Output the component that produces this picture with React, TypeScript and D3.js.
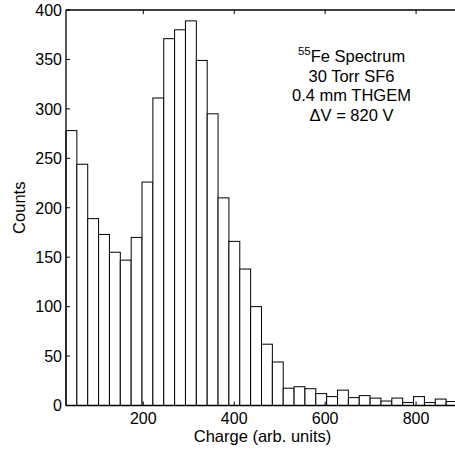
import React from "react";
import * as d3 from "d3";

// Histogram data: 36 bins spanning charge 30..890 (arb. units)
const binStart = 30;
const binEnd = 890;
const counts = [
  278, 244, 189, 173, 155, 147, 170, 226, 311, 371, 380, 389, 349, 295, 210,
  166, 138, 100, 62, 44, 17.5, 19, 17, 12, 9, 15.5, 8, 10, 7.5, 4.5, 7.5, 3,
  9, 3, 6.5, 4,
];
const xTicks = [200, 400, 600, 800];
const yTicks = [0, 50, 100, 150, 200, 250, 300, 350, 400];
const annotation = ["Fe Spectrum", "30 Torr SF6", "0.4 mm THGEM", "ΔV = 820 V"];

const W = 455;
const H = 451;
const margin = { left: 66, top: 10, right: -2, bottom: 45.5 };
const font = "'Liberation Sans', Arial, Helvetica, sans-serif";

export default function App() {
  const x = d3
    .scaleLinear()
    .domain([binStart, binEnd])
    .range([margin.left, W - margin.right]);
  const y = d3
    .scaleLinear()
    .domain([0, 400])
    .range([H - margin.bottom, margin.top]);
  const binW = (binEnd - binStart) / counts.length;
  const bins = counts.map((c, i) => ({
    x0: binStart + i * binW,
    x1: binStart + (i + 1) * binW,
    c,
  }));
  const y0 = y(0);
  const yTop = y(400);
  const xL = x.range()[0];
  const xR = x.range()[1];
  const tickLen = 4;

  return (
    <svg
      width={W}
      height={H}
      style={{ position: "absolute", left: 0, top: 0, background: "#fff" }}
      fontFamily={font}
    >
      <defs>
        <clipPath id="clip">
          <rect x={0} y={0} width={W} height={H} />
        </clipPath>
      </defs>
      <g clipPath="url(#clip)">
        {bins.map((b, i) => (
          <rect
            key={i}
            x={x(b.x0)}
            y={y(b.c)}
            width={x(b.x1) - x(b.x0)}
            height={y0 - y(b.c)}
            fill="#fff"
            stroke="#000"
            strokeWidth={1}
          />
        ))}
        {/* frame */}
        <line x1={xL} x2={xR} y1={y0} y2={y0} stroke="#000" strokeWidth={1.3} />
        <line x1={xL} x2={xR} y1={yTop} y2={yTop} stroke="#000" strokeWidth={1.3} />
        <line x1={xL} x2={xL} y1={yTop} y2={y0} stroke="#000" strokeWidth={1.3} />
        {/* x ticks */}
        {xTicks.map((t) => (
          <g key={t}>
            <line x1={x(t)} x2={x(t)} y1={y0} y2={y0 - tickLen} stroke="#000" />
            <line x1={x(t)} x2={x(t)} y1={yTop} y2={yTop + tickLen} stroke="#000" />
            <text x={x(t)} y={y0 + 18.5} textAnchor="middle" fontSize={16} fill="#000">
              {t}
            </text>
          </g>
        ))}
        {/* y ticks */}
        {yTicks.map((t) => (
          <g key={t}>
            <line x1={xL} x2={xL + tickLen} y1={y(t)} y2={y(t)} stroke="#000" />
            <text
              x={xL - 4}
              y={y(t)}
              dy="0.36em"
              textAnchor="end"
              fontSize={16}
              fill="#000"
            >
              {t}
            </text>
          </g>
        ))}
      </g>
      <text x={262.5} y={441.5} textAnchor="middle" fontSize={16.5} fill="#000">
        Charge (arb. units)
      </text>
      <text
        transform={`translate(25,${(y0 + yTop) / 2}) rotate(-90)`}
        textAnchor="middle"
        fontSize={16.5}
        fill="#000"
      >
        Counts
      </text>
      <g fontSize={16.5} fill="#000" textAnchor="middle">
        <text x={351.5} y={62.3}>
          <tspan fontSize={11.5} dy={-7}>55</tspan>
          <tspan dy={7}>{annotation[0]}</tspan>
        </text>
        {annotation.slice(1).map((s, i) => (
          <text key={i} x={351.5} y={81.7 + i * 19.4}>
            {s}
          </text>
        ))}
      </g>
    </svg>
  );
}
